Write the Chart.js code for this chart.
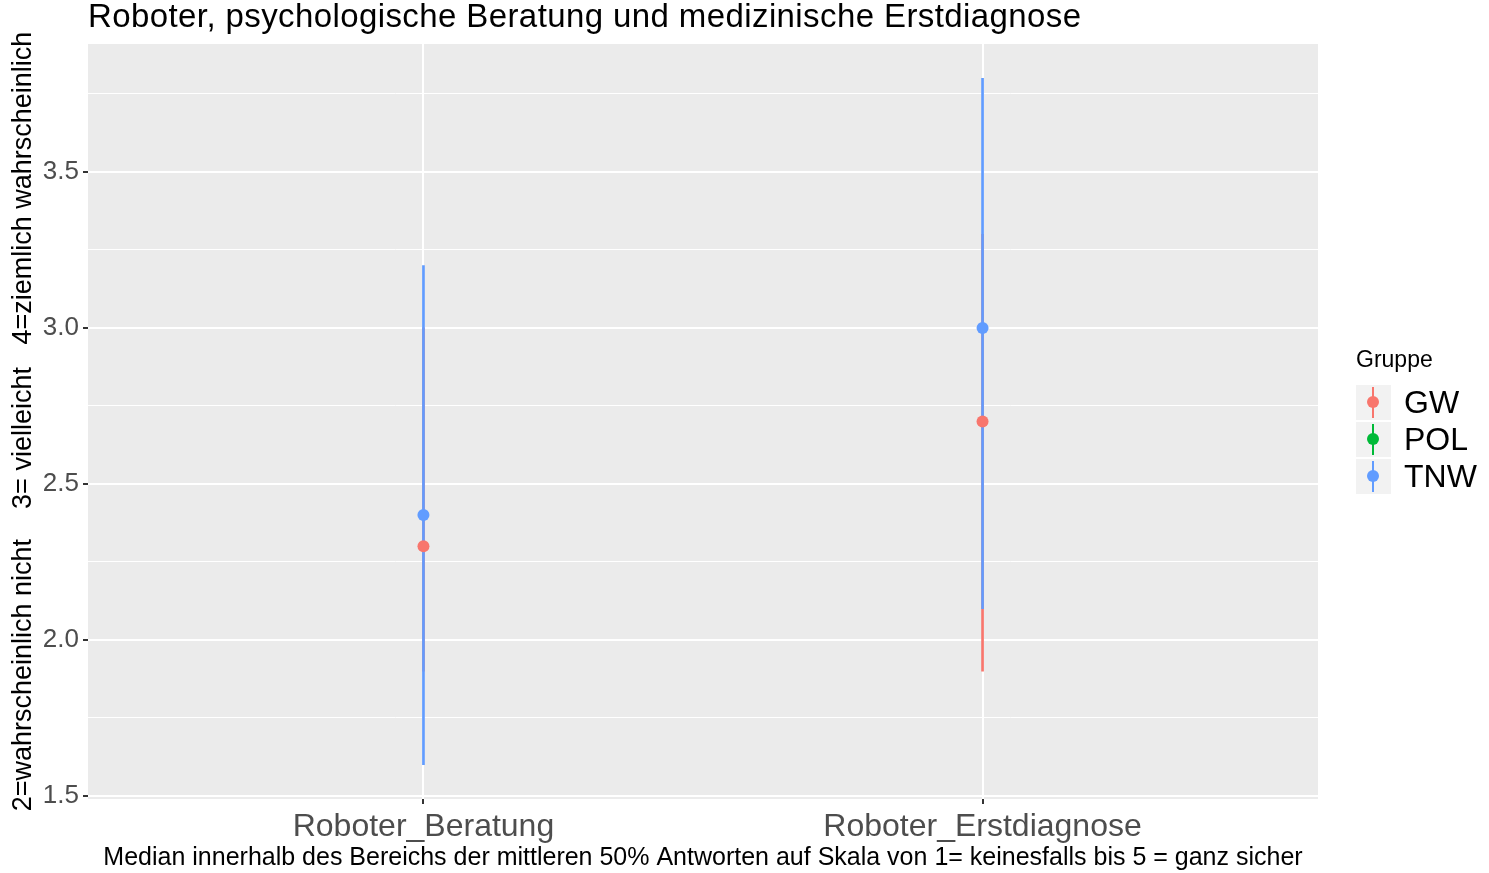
<!DOCTYPE html>
<html>
<head>
<meta charset="utf-8">
<script src="https://cdn.jsdelivr.net/npm/chart.js@4.4.1/dist/chart.umd.min.js"></script>
<style>
  body { margin: 0; background: #fff; font-family: "Liberation Sans", Arial, sans-serif; }
  #wrap { position: relative; width: 1489px; height: 873px; }
  #title { position: absolute; left: 88px; top: -3px; font-size: 33px; letter-spacing: 0.4px; color: #000; white-space: nowrap; }
  #legend { position: absolute; left: 1356px; top: 346px; }
  #legend .head { font-size: 23px; color: #000; margin-bottom: 11px; }
  #legend .row { display: flex; align-items: center; height: 37px; }
  #legend .key { position: relative; width: 35px; height: 35px; background: #f2f2f2; margin-right: 13px; }
  #legend .key .ln { position: absolute; left: 16px; top: 2px; width: 2px; height: 31px; }
  #legend .key .pt { position: absolute; left: 11px; top: 11px; width: 12px; height: 12px; border-radius: 50%; }
  #legend .lab { font-size: 32px; color: #000; }
</style>
</head>
<body>
<div id="wrap">
  <canvas id="chart" width="1489" height="873"></canvas>
  <div id="title">Roboter, psychologische Beratung und medizinische Erstdiagnose</div>
  <div id="legend"></div>
</div>
<script>
// categories and groups
const categories = [`Roboter_Beratung`, `Roboter_Erstdiagnose`];
const groups = [`GW`, `POL`, `TNW`];
const groupColors = [`#F8766D`, `#00BA38`, `#619CFF`];

// medians and the range of the middle 50% per group (one value per category)
const gwMedian = [2.3, 2.7];
const gwLow = [1.9, 1.9];
const gwHigh = [3.0, 3.3];
const polMedian = [null, null];
const polLow = [null, null];
const polHigh = [null, null];
const tnwMedian = [2.4, 3.0];
const tnwLow = [1.6, 2.1];
const tnwHigh = [3.2, 3.8];

const yMajorTicks = [1.5, 2.0, 2.5, 3.0, 3.5];
const yMinorTicks = [1.75, 2.25, 2.75, 3.25, 3.75];

const yTitle = `2=wahrscheinlich nicht    3= vielleicht   4=ziemlich wahrscheinlich`;
const caption = `Median innerhalb des Bereichs der mittleren 50% Antworten auf Skala von 1= keinesfalls bis 5 = ganz sicher`;

const FONT = `"Liberation Sans", Arial, sans-serif`;

const points = function (values) {
    return values.map((v, i) => ({ x: i + 1, y: v }));
};
const ranges = function (low, high) {
    return low.map((v, i) => ({ x: i + 1, y: v === null ? null : [v, high[i]] }));
};

const pointSet = function (label, values, color, order) {
    return {
        type: `line`,
        label,
        data: points(values),
        showLine: false,
        pointRadius: 6,
        pointHoverRadius: 6,
        pointBackgroundColor: color,
        pointBorderWidth: 0,
        borderColor: color,
        order,
    };
};
const rangeSet = function (label, low, high, color, order) {
    return {
        type: `bar`,
        label,
        data: ranges(low, high),
        backgroundColor: color,
        borderWidth: 0,
        barThickness: 2,
        grouped: false,
        order,
    };
};

// grey panel behind the grid
const panelBackground = {
    id: `panelBackground`,
    beforeDraw(chart) {
        const { ctx, chartArea: a } = chart;
        ctx.save();
        ctx.fillStyle = `#fff`;
        ctx.fillRect(0, 0, chart.width, chart.height);
        ctx.fillStyle = `#EBEBEB`;
        ctx.fillRect(a.left, a.top, a.right - a.left, a.bottom - a.top);
        ctx.restore();
    },
};

const isMajor = v => yMajorTicks.some(t => Math.abs(t - v) < 1e-9);

const chart = new Chart(document.getElementById(`chart`), {
    type: `bar`,
    data: {
        datasets: [
            pointSet(`GW`, gwMedian, groupColors[0], 0),
            pointSet(`POL`, polMedian, groupColors[1], 1),
            pointSet(`TNW`, tnwMedian, groupColors[2], 2),
            rangeSet(`TNW range`, tnwLow, tnwHigh, groupColors[2], 3),
            rangeSet(`POL range`, polLow, polHigh, groupColors[1], 4),
            rangeSet(`GW range`, gwLow, gwHigh, groupColors[0], 5),
        ],
    },
    options: {
        responsive: false,
        animation: false,
        layout: { padding: { top: 44, right: 171, left: 0, bottom: 0 } },
        plugins: {
            legend: { display: false },
            tooltip: { enabled: false },
            title: { display: false },
        },
        scales: {
            x: {
                type: `linear`,
                min: 0.4,
                max: 2.6,
                offset: false,
                afterBuildTicks: scale => {
                    scale.ticks = categories.map((c, i) => ({ value: i + 1 }));
                },
                afterFit: scale => { scale.height = 74; },
                border: { display: false },
                grid: { offset: false, color: `#ffffff`, lineWidth: 2, tickColor: `#333333`, tickLength: 5 },
                ticks: {
                    maxRotation: 0,
                    autoSkip: false,
                    padding: 4,
                    color: `#4D4D4D`,
                    font: { family: FONT, size: 32 },
                    callback: v => categories[Math.round(v) - 1] || ``,
                },
                title: {
                    display: true,
                    text: caption,
                    color: `#000`,
                    font: { family: FONT, size: 25 },
                    padding: { top: 0, bottom: 0 },
                },
            },
            y: {
                type: `linear`,
                min: 1.49,
                max: 3.91,
                afterBuildTicks: scale => {
                    scale.ticks = yMajorTicks.concat(yMinorTicks).sort((a, b) => a - b).map(v => ({ value: v }));
                },
                afterFit: scale => { scale.width = 88; },
                border: { display: false },
                grid: {
                    color: `#ffffff`,
                    lineWidth: c => (isMajor(c.tick.value) ? 2 : 1),
                    tickColor: c => (isMajor(c.tick.value) ? `#333333` : `rgba(0,0,0,0)`),
                    tickLength: 5,
                },
                ticks: {
                    padding: 4,
                    color: `#4D4D4D`,
                    font: { family: FONT, size: 26 },
                    callback: v => (isMajor(v) ? v.toFixed(1) : ``),
                },
                title: {
                    display: true,
                    text: yTitle,
                    color: `#000`,
                    font: { family: FONT, size: 27 },
                    padding: { top: 7, bottom: 0 },
                },
            },
        },
    },
    plugins: [panelBackground],
});

// legend with the group keys
const legend = document.getElementById(`legend`);
legend.innerHTML = `<div class="head">Gruppe</div>` + groups.map((g, i) =>
    `<div class="row"><div class="key"><div class="ln" style="background:${groupColors[i]}"></div>` +
    `<div class="pt" style="background:${groupColors[i]}"></div></div><div class="lab">${g}</div></div>`
).join(``);
</script>
</body>
</html>
